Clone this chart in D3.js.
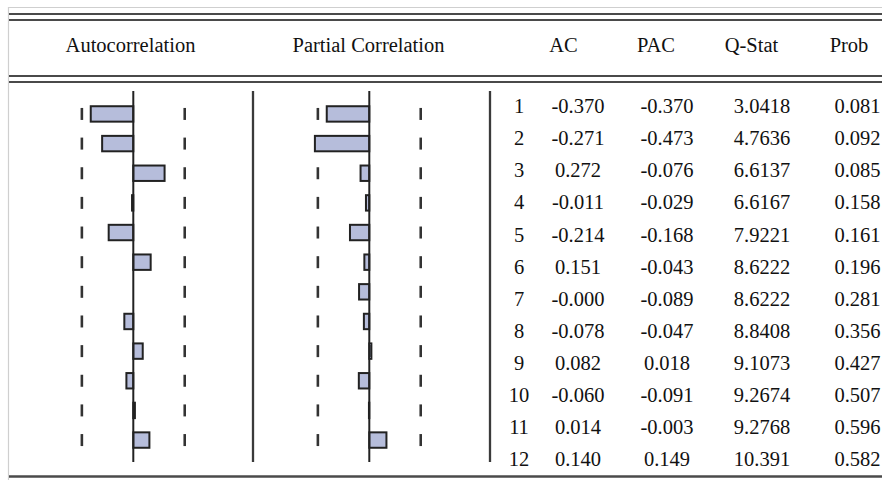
<!DOCTYPE html>
<html>
<head>
<meta charset="utf-8">
<script src="https://cdn.jsdelivr.net/npm/d3@7"></script>
<style>
  html, body { margin: 0; padding: 0; background: #fff; }
  svg { display: block; }
  text { font-family: "Liberation Serif", "Times New Roman", serif; fill: #111; }
</style>
</head>
<body>
<svg id="chart" width="882" height="480"></svg>
<script>
// Correlogram: lags, autocorrelation, partial autocorrelation, Ljung-Box Q and p-values
const lags  = [1, 2, 3, 4, 5, 6, 7, 8, 9, 10, 11, 12];
const ac    = [-0.370, -0.271, 0.272, -0.011, -0.214, 0.151, -0.000, -0.078, 0.082, -0.060, 0.014, 0.140];
const pac   = [-0.370, -0.473, -0.076, -0.029, -0.168, -0.043, -0.089, -0.047, 0.018, -0.091, -0.003, 0.149];
const qstat = ["3.0418", "4.7636", "6.6137", "6.6167", "7.9221", "8.6222", "8.6222", "8.8408", "9.1073", "9.2674", "9.2768", "10.391"];
const prob  = ["0.081", "0.092", "0.085", "0.158", "0.161", "0.196", "0.281", "0.356", "0.427", "0.507", "0.596", "0.582"];
const headers = ["Autocorrelation", "Partial Correlation", "AC", "PAC", "Q-Stat", "Prob"];
const nObs = 20;                       // sample size behind the ±2/√n bands
const band = 2 / Math.sqrt(nObs);

const svg = d3.select("#chart");
const FS = "20.5px";

// vertical layout
const yBar = d3.scaleBand().domain(lags).range([92, 462]).padding(0.48);
const yText = d3.scalePoint().domain(lags).range([113.3, 466]);

// horizontal scales for the two bar panels
const xAC  = d3.scaleLinear().domain([-1, 1]).range([18.3, 248.3]);
const xPAC = d3.scaleLinear().domain([-1, 1]).range([254.3, 484.3]);

// light outer frame
svg.append("line").attr("x1", 8).attr("x2", 882).attr("y1", 7.5).attr("y2", 7.5)
  .attr("stroke", "#cfcfcf").attr("stroke-width", 1);
svg.append("line").attr("x1", 8.5).attr("x2", 8.5).attr("y1", 7).attr("y2", 480)
  .attr("stroke", "#cfcfcf").attr("stroke-width", 1.2);

// horizontal rules
const rule = (y, w) => svg.append("line").attr("x1", 9).attr("x2", 882)
  .attr("y1", y).attr("y2", y).attr("stroke", "#4a4a4a").attr("stroke-width", w);
rule(14, 2); rule(20, 2);
rule(76, 2); rule(82, 2);
rule(476.5, 2.5);

// headers
const headerX = [130.5, 368.5, 563.5, 656, 751.5, 849];
svg.append("g").selectAll("text").data(headers).join("text")
  .attr("x", (d, i) => headerX[i]).attr("y", 51.5)
  .attr("text-anchor", "middle").style("font-size", FS)
  .text(d => d);

// panel separators
[253, 490].forEach(x => svg.append("line")
  .attr("x1", x).attr("x2", x).attr("y1", 91).attr("y2", 462)
  .attr("stroke", "#3a3a3a").attr("stroke-width", 2.3));

function panel(x, values) {
  const g = svg.append("g");
  // ±2/sqrt(n) dashed bounds, one dash per row
  [-band, band].forEach(b => {
    g.append("g").selectAll("line").data(lags).join("line")
      .attr("x1", x(b)).attr("x2", x(b))
      .attr("y1", d => yBar(d) + yBar.bandwidth() / 2 - 6)
      .attr("y2", d => yBar(d) + yBar.bandwidth() / 2 + 6)
      .attr("stroke", "#333").attr("stroke-width", 2.6);
  });
  // bars
  g.append("g").selectAll("rect").data(values).join("rect")
    .attr("x", d => x(Math.min(0, d)))
    .attr("width", d => Math.abs(x(d) - x(0)))
    .attr("y", (d, i) => yBar(lags[i]))
    .attr("height", yBar.bandwidth())
    .attr("fill", "#b6bddb").attr("stroke", "#222").attr("stroke-width", 2);
  // zero line
  g.append("line").attr("x1", x(0)).attr("x2", x(0)).attr("y1", 91).attr("y2", 462)
    .attr("stroke", "#222").attr("stroke-width", 2);
}
panel(xAC, ac);
panel(xPAC, pac);

// numeric table
const fmt = v => ((v < 0 || Object.is(v, -0)) ? "-" : "") + Math.abs(v).toFixed(3);
const cols = [
  { x: 519,   vals: lags.map(String) },
  { x: 578,   vals: ac.map(fmt) },
  { x: 667,   vals: pac.map(fmt) },
  { x: 762,   vals: qstat },
  { x: 857.5, vals: prob }
];
cols.forEach(c => {
  svg.append("g").selectAll("text").data(c.vals).join("text")
    .attr("x", c.x).attr("y", (d, i) => yText(lags[i]))
    .attr("text-anchor", "middle").style("font-size", FS)
    .text(d => d);
});
</script>
</body>
</html>
